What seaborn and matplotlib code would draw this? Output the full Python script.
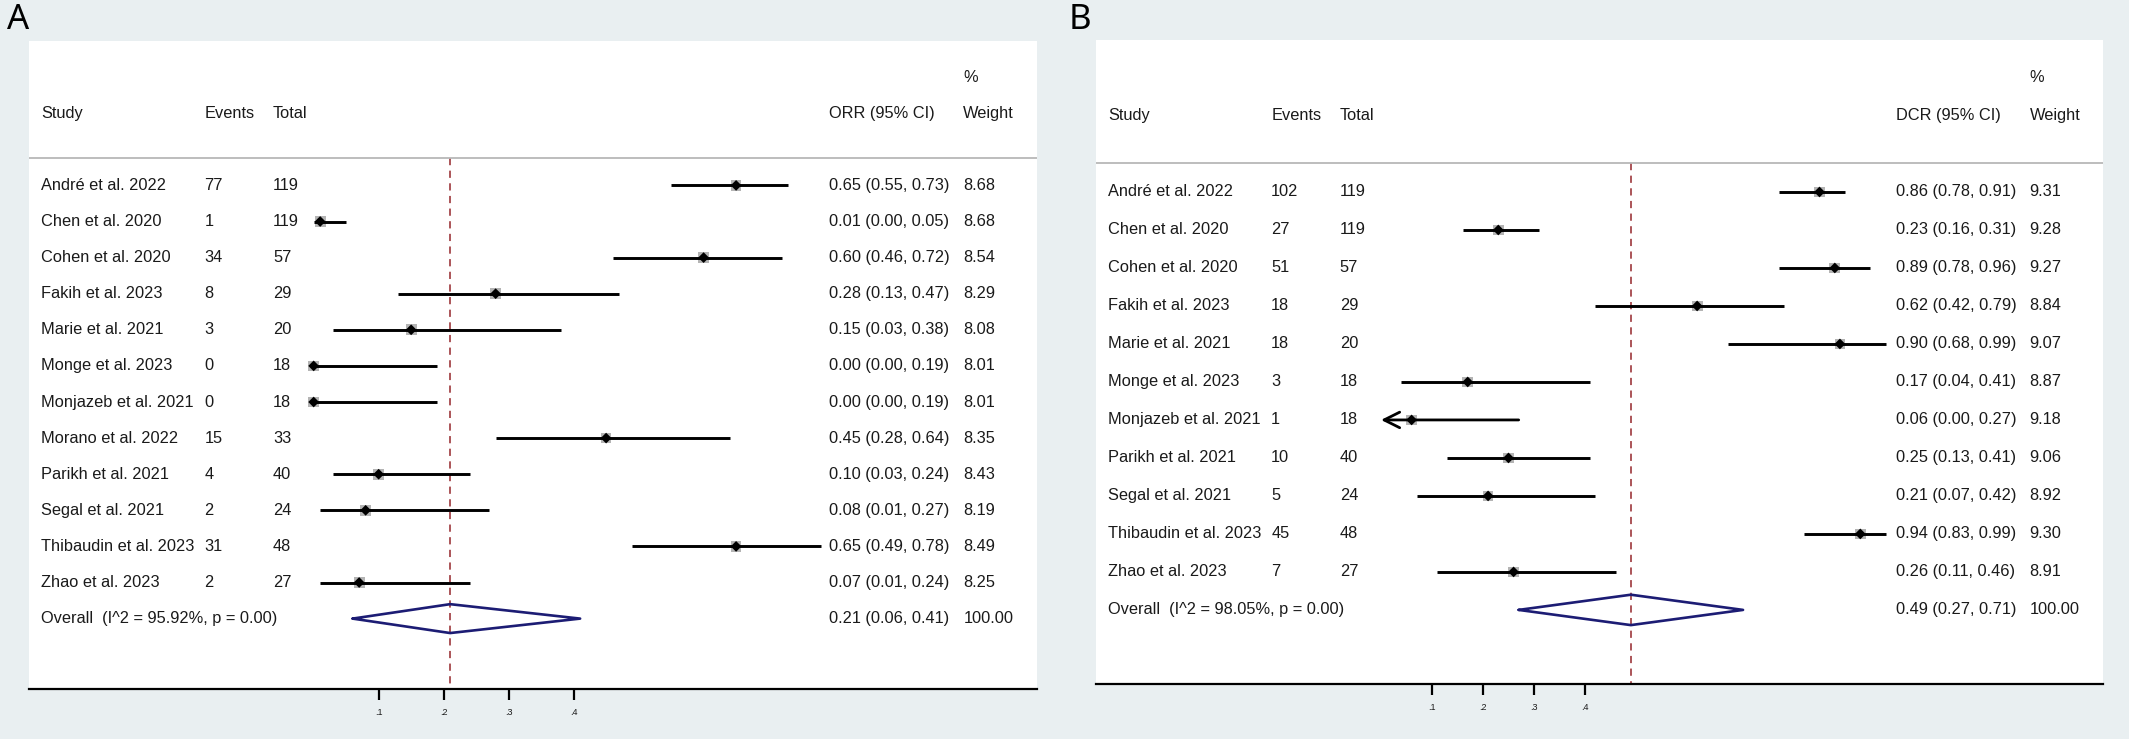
import numpy as np
import pandas as pd
import seaborn as sns
import matplotlib.pyplot as plt
from matplotlib.transforms import blended_transform_factory

# Style
sns.set_theme(style="white")
plt.rcParams['font.family'] = ['Liberation Sans', 'DejaVu Sans']

# Panel A - objective response rate
studies_a = ['André et al. 2022', 'Chen et al. 2020', 'Cohen et al. 2020', 'Fakih et al. 2023',
             'Marie et al. 2021', 'Monge et al. 2023', 'Monjazeb et al. 2021', 'Morano et al. 2022',
             'Parikh et al. 2021', 'Segal et al. 2021', 'Thibaudin et al. 2023', 'Zhao et al. 2023']
events_a = [77, 1, 34, 8, 3, 0, 0, 15, 4, 2, 31, 2]
totals_a = [119, 119, 57, 29, 20, 18, 18, 33, 40, 24, 48, 27]
orr_est = [0.65, 0.01, 0.60, 0.28, 0.15, 0.00, 0.00, 0.45, 0.10, 0.08, 0.65, 0.07]
orr_lo = [0.55, 0.00, 0.46, 0.13, 0.03, 0.00, 0.00, 0.28, 0.03, 0.01, 0.49, 0.01]
orr_hi = [0.73, 0.05, 0.72, 0.47, 0.38, 0.19, 0.19, 0.64, 0.24, 0.27, 0.78, 0.24]
weight_a = [8.68, 8.68, 8.54, 8.29, 8.08, 8.01, 8.01, 8.35, 8.43, 8.19, 8.49, 8.25]
clipped_a = [False] * 12
overall_a = [0.21, 0.06, 0.41]
overall_label_a = 'Overall  (I^2 = 95.92%, p = 0.00)'

# Panel B - disease control rate
studies_b = ['André et al. 2022', 'Chen et al. 2020', 'Cohen et al. 2020', 'Fakih et al. 2023',
             'Marie et al. 2021', 'Monge et al. 2023', 'Monjazeb et al. 2021', 'Parikh et al. 2021',
             'Segal et al. 2021', 'Thibaudin et al. 2023', 'Zhao et al. 2023']
events_b = [102, 27, 51, 18, 18, 3, 1, 10, 5, 45, 7]
totals_b = [119, 119, 57, 29, 20, 18, 18, 40, 24, 48, 27]
dcr_est = [0.86, 0.23, 0.89, 0.62, 0.90, 0.17, 0.06, 0.25, 0.21, 0.94, 0.26]
dcr_lo = [0.78, 0.16, 0.78, 0.42, 0.68, 0.04, 0.00, 0.13, 0.07, 0.83, 0.11]
dcr_hi = [0.91, 0.31, 0.96, 0.79, 0.99, 0.41, 0.27, 0.41, 0.42, 0.99, 0.46]
weight_b = [9.31, 9.28, 9.27, 8.84, 9.07, 8.87, 9.18, 9.06, 8.92, 9.30, 8.91]
clipped_b = [False] * 6 + [True] + [False] * 4
overall_b = [0.49, 0.27, 0.71]
overall_label_b = 'Overall  (I^2 = 98.05%, p = 0.00)'

tick_values = [0.1, 0.2, 0.3, 0.4]
tick_labels = ['.1', '.2', '.3', '.4']

BG = '#e9eff1'
TXT = '#1a1a1a'
FS = 11.8


def forest(ax, studies, events, totals, est, lo, hi, weights, clipped,
           overall, overall_label, measure, xlim):
    n = len(studies)
    df = pd.DataFrame({'study': studies, 'est': est, 'lo': lo, 'hi': hi,
                       'row': np.arange(n), 'clipped': clipped})
    ax.set_facecolor('white')

    # weight boxes and point estimates
    sns.scatterplot(data=df, x='est', y='row', marker='s', s=60, color='#b4b4b4',
                    edgecolor='none', ax=ax, zorder=2, legend=False)
    for r in df.itertuples():
        if r.clipped:
            ax.annotate('', xy=(r.lo, r.row), xytext=(r.hi, r.row),
                        arrowprops=dict(arrowstyle='->', lw=2, color='black',
                                        mutation_scale=28, shrinkA=0, shrinkB=0),
                        zorder=3)
        else:
            ax.hlines(r.row, r.lo, r.hi, color='black', lw=2.1, zorder=3)
    sns.scatterplot(data=df, x='est', y='row', marker='D', s=30, color='black',
                    edgecolor='none', ax=ax, zorder=4, legend=False)

    # pooled estimate diamond and reference line
    est_o, lo_o, hi_o = overall
    ax.plot([lo_o, est_o, hi_o, est_o, lo_o], [n, n - 0.4, n, n + 0.4, n],
            color='#1c1c74', lw=1.9, zorder=3)
    ax.vlines(est_o, -0.77, n + 1.95, colors='#a5474b', linestyles=(0, (4, 3)),
              lw=1.3, zorder=1)
    ax.axhline(-0.77, color='#b8b8b8', lw=1.3)

    # text columns
    tr = blended_transform_factory(ax.transAxes, ax.transData)
    cols = [0.012, 0.174, 0.242, 0.794, 0.927]
    heads = ['Study', 'Events', 'Total', f'{measure} (95% CI)', 'Weight']
    for c, h in zip(cols, heads):
        ax.text(c, -2, h, transform=tr, va='center', ha='left', fontsize=FS, color=TXT)
    ax.text(cols[4], -3, '%', transform=tr, va='center', ha='left', fontsize=FS, color=TXT)
    for i in range(n):
        row_txt = [studies[i], str(events[i]), str(totals[i]),
                   f'{est[i]:.2f} ({lo[i]:.2f}, {hi[i]:.2f})', f'{weights[i]:.2f}']
        for c, t in zip(cols, row_txt):
            ax.text(c, i, t, transform=tr, va='center', ha='left', fontsize=FS, color=TXT)
    ax.text(cols[0], n, overall_label, transform=tr, va='center', ha='left', fontsize=FS, color=TXT)
    ax.text(cols[3], n, f'{est_o:.2f} ({lo_o:.2f}, {hi_o:.2f})', transform=tr,
            va='center', ha='left', fontsize=FS, color=TXT)
    ax.text(cols[4], n, '100.00', transform=tr, va='center', ha='left', fontsize=FS, color=TXT)

    ax.set_xlim(*xlim)
    ax.set_ylim(n + 1.95, -4.0)
    ax.set_xticks(tick_values)
    ax.set_xticklabels(tick_labels)
    ax.set_yticks([])
    ax.set_xlabel('')
    ax.set_ylabel('')
    for s in ['top', 'left', 'right']:
        ax.spines[s].set_visible(False)
    ax.spines['bottom'].set_color('black')
    ax.spines['bottom'].set_linewidth(1.6)
    ax.tick_params(axis='x', bottom=True, length=8, width=1.6, direction='out',
                   color='black', labelsize=6.5, pad=6, labelcolor=TXT)


fig = plt.figure(figsize=(21.29, 7.39), dpi=100, facecolor=BG)
ax_a = fig.add_axes([29 / 2129, 1 - 689 / 739, 1008 / 2129, 648 / 739])
ax_b = fig.add_axes([1096 / 2129, 1 - 684 / 739, 1007 / 2129, 644 / 739])

forest(ax_a, studies_a, events_a, totals_a, orr_est, orr_lo, orr_hi, weight_a, clipped_a,
       overall_a, overall_label_a, 'ORR', (-0.438, 1.113))
forest(ax_b, studies_b, events_b, totals_b, dcr_est, dcr_lo, dcr_hi, weight_b, clipped_b,
       overall_b, overall_label_b, 'DCR', (-0.559, 1.416))

fig.text(7 / 2129, 1 - 3 / 739, 'A', ha='left', va='top', fontsize=25,
         family=['Noto Sans', 'DejaVu Sans'], color='black')
fig.text(1069 / 2129, 1 - 3 / 739, 'B', ha='left', va='top', fontsize=25,
         family=['Noto Sans', 'DejaVu Sans'], color='black')

fig.savefig('out.png', dpi=100, facecolor=BG)
